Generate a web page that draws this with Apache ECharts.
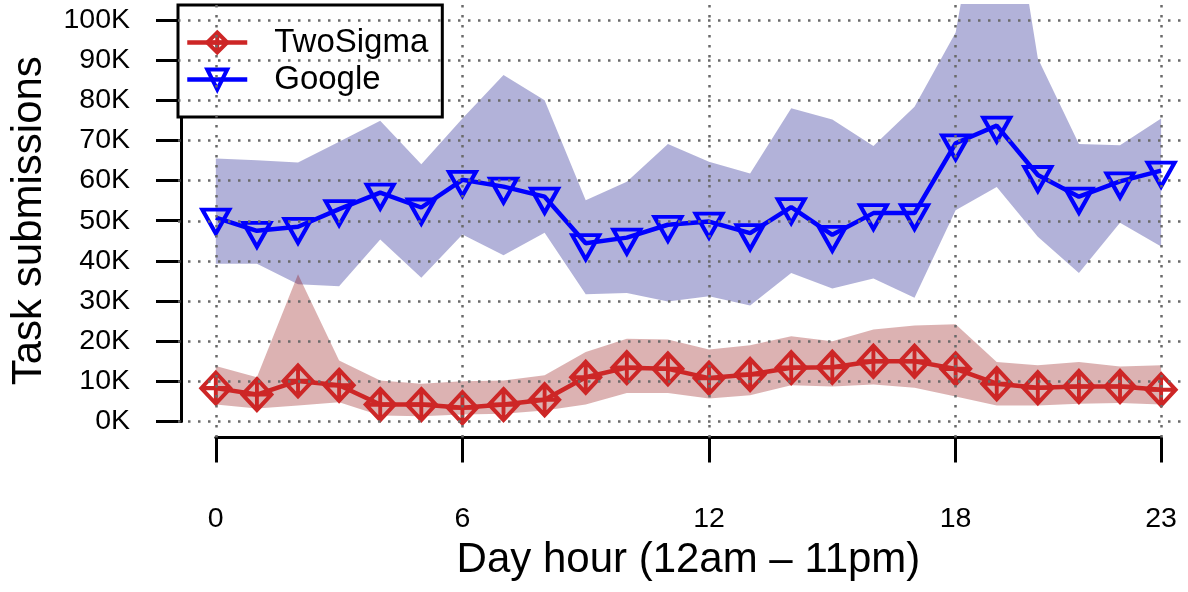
<!DOCTYPE html>
<html><head><meta charset="utf-8">
<script src="https://cdn.jsdelivr.net/npm/echarts@6/dist/echarts.min.js"></script>
<style>html,body{margin:0;padding:0;background:#fff}#c{width:1188px;height:592px}</style>
</head><body><div id="c"></div>
<script>
const hours = [0,1,2,3,4,5,6,7,8,9,10,11,12,13,14,15,16,17,18,19,20,21,22,23];
const hourLabels = hours.map(String);
const xTickHours = [0, 6, 12, 18, 23];
const yTickValues = [0,10000,20000,30000,40000,50000,60000,70000,80000,90000,100000];

const googleMean  = [50800,47500,48500,52900,57000,53300,60200,58500,56000,44400,45800,49000,49800,46900,53400,46500,51900,51900,69300,73700,61400,56000,59800,62500];
const googleUpper = [65500,65100,64500,69700,74900,64100,75500,86300,80000,55100,59700,69100,64700,61800,78000,75200,68600,78400,96900,154000,90500,69100,68800,75500];
const googleLower = [39300,39300,34200,33700,45300,35800,46600,41400,47000,31700,32000,29900,31200,28900,37000,33100,35600,30800,52600,58400,46000,37000,49500,43600];

const twoSigmaMean  = [8300,6700,10100,9000,4200,4200,3400,4200,5400,11000,13400,13100,10800,11700,13400,13500,15000,15000,13100,9400,8400,8700,8700,7900];
const twoSigmaUpper = [13800,11000,36700,15200,10200,9400,10000,10200,11500,17300,20600,20400,17900,19000,21200,20000,22900,23900,24200,14800,14000,14800,13700,14000];
const twoSigmaLower = [4200,3200,4000,4800,1500,1300,1700,1900,2700,4200,7100,7100,5700,6500,9000,8700,9200,8400,6200,4000,4000,4400,4600,4200];

const FONT = 'Liberation Sans';
const RED = '#cd2626';
const BLUE = '#0000ff';
const diamondPlus = 'path://M10,0L20,10L10,20L0,10Z M10,0L10,20 M0,10L20,10';
const triDown = 'path://M0,0L20,0L10,17.32Z';

const pairs = (arr) => hours.map((h, i) => [h, arr[i]]);
const tickSet = new Set(xTickHours);

function bandSeries(name, upper, lower, fill) {
  return {
    name: name, type: 'custom', xAxisIndex: 0, yAxisIndex: 0, silent: true, z: 1,
    data: [[0, 0]],
    renderItem: function (params, api) {
      const top = hours.map((h, i) => api.coord([h, upper[i]]));
      const bottom = hours.map((h, i) => api.coord([h, lower[i]])).reverse();
      const cs = params.coordSys;
      return {
        type: 'polygon',
        shape: {points: top.concat(bottom)},
        style: {fill: fill, stroke: null},
        clipPath: {type: 'rect', shape: {x: cs.x, y: cs.y, width: cs.width, height: cs.height}}
      };
    }
  };
}

const chart = echarts.init(document.getElementById('c'), null, {renderer: 'canvas'});
chart.setOption({
  animation: false,
  backgroundColor: '#fff',
  textStyle: {fontFamily: FONT},
  legend: {
    data: ['TwoSigma', 'Google'],
    orient: 'vertical', left: 178, top: 5,
    itemWidth: 60, itemHeight: 25, itemGap: 4,
    padding: [21, 14, 21, 7],
    backgroundColor: '#fff', borderColor: '#000', borderWidth: 3, borderRadius: 0,
    lineStyle: {width: 4.5},
    itemStyle: {borderWidth: 4},
    textStyle: {fontSize: 33, fontFamily: FONT, color: '#000', padding: [0, 0, 0, 22]},
    selectedMode: false
  },
  grid: [
    {left: 178, right: 0, top: 4, bottom: 154.5},
    {left: 178, right: 0, top: 20, bottom: 170.6},
    {left: 215.8, right: 26.9, top: 400, bottom: 154.5}
  ],
  xAxis: [
    {gridIndex: 0, type: 'value', min: -0.92, max: 23.654, show: false},
    {gridIndex: 1, type: 'value', min: 0, max: 1, show: false},
    {gridIndex: 2, type: 'category', data: hourLabels, boundaryGap: false,
     axisLine: {show: true, lineStyle: {color: '#000', width: 3}},
     axisTick: {show: true, inside: false, length: 25, lineStyle: {color: '#000', width: 3},
                interval: (i) => tickSet.has(i)},
     axisLabel: {show: true, interval: (i) => tickSet.has(i), fontSize: 28.5, color: '#000', fontFamily: FONT, margin: 67},
     splitLine: {show: false},
     name: 'Day hour (12am \u2013 11pm)', nameLocation: 'middle', nameGap: 102,
     nameTextStyle: {fontSize: 42, color: '#000', fontFamily: FONT}}
  ],
  yAxis: [
    {gridIndex: 0, type: 'value', min: -4000, max: 104000, show: false},
    {gridIndex: 1, type: 'value', min: 0, max: 100000, interval: 10000,
     axisLine: {show: true, lineStyle: {color: '#000', width: 3}},
     axisTick: {show: true, inside: false, length: 25, lineStyle: {color: '#000', width: 3}},
     axisLabel: {fontSize: 28.5, color: '#000', fontFamily: FONT, margin: 51,
                 formatter: (v) => (v / 1000) + 'K'},
     splitLine: {show: false},
     name: 'Task submissions', nameLocation: 'middle', nameGap: 131, nameRotate: 90,
     nameTextStyle: {fontSize: 42, color: '#000', fontFamily: FONT}},
    {gridIndex: 2, type: 'value', show: false}
  ],
  series: [
    bandSeries('gBand', googleUpper, googleLower, 'rgba(0,0,128,0.3)'),
    bandSeries('tBand', twoSigmaUpper, twoSigmaLower, 'rgba(139,0,0,0.3)'),
    {name: 'grid', type: 'line', xAxisIndex: 0, yAxisIndex: 0, data: [], silent: true, z: 2,
     markLine: {silent: true, symbol: ['none', 'none'], label: {show: false}, animation: false,
       lineStyle: {color: '#6a6a6a', width: 2.5, type: [2.5, 7.5]},
       emphasis: {disabled: true},
       data: yTickValues.map(v => ({yAxis: v})).concat(xTickHours.map(h => ({xAxis: h})))}},
    {name: 'TwoSigma', type: 'line', xAxisIndex: 0, yAxisIndex: 0, z: 4,
     data: pairs(twoSigmaMean), symbol: diamondPlus, symbolSize: [29, 31], showSymbol: true,
     color: RED, lineStyle: {color: RED, width: 4.5},
     itemStyle: {color: 'rgba(0,0,0,0)', borderColor: RED, borderWidth: 4}},
    {name: 'Google', type: 'line', xAxisIndex: 0, yAxisIndex: 0, z: 4,
     data: pairs(googleMean), symbol: triDown, symbolSize: [27, 24], symbolOffset: [0, 4], showSymbol: true,
     color: BLUE, lineStyle: {color: BLUE, width: 4.5},
     itemStyle: {color: 'rgba(0,0,0,0)', borderColor: BLUE, borderWidth: 4}}
  ]
});
</script></body></html>
